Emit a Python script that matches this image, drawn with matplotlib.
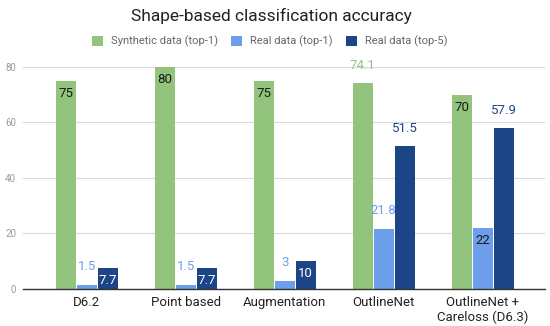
import matplotlib
matplotlib.use("Agg")
import matplotlib.pyplot as plt
import numpy as np

plt.rcParams['font.family'] = ['Roboto', 'DejaVu Sans']

categories = ["D6.2", "Point based", "Augmentation", "OutlineNet", "OutlineNet +\nCareloss (D6.3)"]
series_names = ["Synthetic data (top-1)", "Real data (top-1)", "Real data (top-5)"]
synthetic_top1 = [75, 80, 75, 74.1, 70]
real_top1 = [1.5, 1.5, 3, 21.8, 22]
real_top5 = [7.7, 7.7, 10, 51.5, 57.9]
yticks = [0, 20, 40, 60, 80]

colors = ["#93c47d", "#6d9eeb", "#1c4587"]
# label placement: 'in' = inside top of bar, 'out' = above bar
placement = [
    ["in", "in", "in", "out", "in"],
    ["out", "out", "out", "out", "in"],
    ["in", "in", "in", "out", "out"],
]
in_colors = ["#1a1a1a", "#1a1a1a", "white"]

fig = plt.figure(figsize=(5.5, 3.26), dpi=100)
ax = fig.add_axes([0.042, 0.1135, 0.949, 0.681])

x = np.arange(len(categories))
width = 0.2
offsets = [-0.212, 0, 0.212]
all_series = [synthetic_top1, real_top1, real_top5]
for i, (vals, col, off) in enumerate(zip(all_series, colors, offsets)):
    bars = ax.bar(x + off, vals, width, color=col, label=series_names[i], zorder=3)
    for j, (b, v) in enumerate(zip(bars, vals)):
        txt = f"{v:g}"
        cx = b.get_x() + b.get_width() / 2
        if placement[i][j] == "in":
            ax.annotate(txt, (cx, v), xytext=(0, -9), textcoords="offset points",
                        ha="center", va="center", fontsize=9.5, color=in_colors[i], zorder=5)
        else:
            ax.annotate(txt, (cx, v), xytext=(0, 13), textcoords="offset points",
                        ha="center", va="center", fontsize=9.5, color=col, zorder=5,
                        annotation_clip=False)

ax.set_xlim(-0.645, 4.63)
ax.set_ylim(0, 80)
ax.set_yticks(yticks)
ax.set_xticks(x)
ax.set_xticklabels(categories, fontsize=9.5, color="#222222")
ax.tick_params(axis="y", length=0, labelsize=7, labelcolor="#999999", pad=5)
ax.tick_params(axis="x", length=0, pad=5)
ax.grid(axis="y", color="#d9d9d9", linewidth=0.8, zorder=0)
for s in ["top", "right", "left"]:
    ax.spines[s].set_visible(False)
ax.spines["bottom"].set_color("#333333")
ax.spines["bottom"].set_linewidth(1.0)
ax.spines["bottom"].set_zorder(4)

fig.text(0.493, 0.95, "Shape-based classification accuracy", ha="center", va="center",
         fontsize=12.5, color="#222222")
fig.legend(loc="center", bbox_to_anchor=(0.49, 0.872), ncol=3, frameon=False,
           fontsize=8, labelcolor="#666666", handlelength=1.0, handleheight=1.0,
           columnspacing=1.2, handletextpad=0.7)

fig.savefig("out.png", dpi=100)
